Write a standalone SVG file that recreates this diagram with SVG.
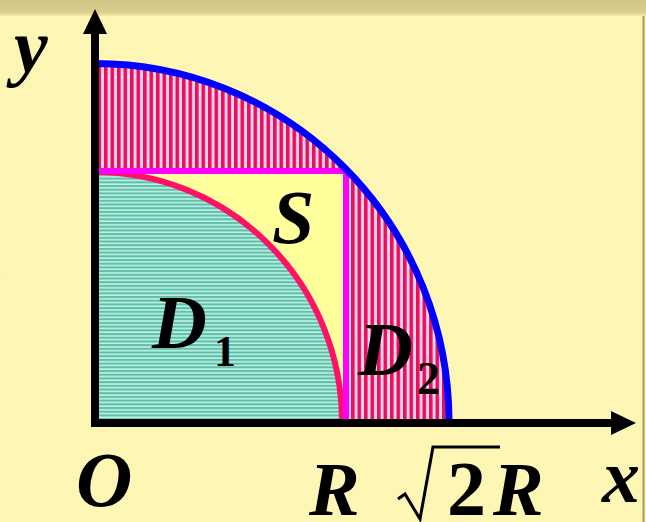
<svg xmlns="http://www.w3.org/2000/svg" width="646" height="522" viewBox="0 0 646 522">
<defs>
<linearGradient id="band" x1="0" y1="0" x2="0" y2="1">
<stop offset="0" stop-color="#d0c582"/>
<stop offset="0.75" stop-color="#d8cd8a"/>
<stop offset="1" stop-color="#f3eaa8"/>
</linearGradient>
<pattern id="vstripe" patternUnits="userSpaceOnUse" width="6.5" height="10">
<rect width="6.5" height="10" fill="#ffd6ee"/>
<rect width="3.6" height="10" fill="#e8105e"/>
</pattern>
<pattern id="hstripe" patternUnits="userSpaceOnUse" width="10" height="3.7">
<rect width="10" height="3.7" fill="#bff3e4"/>
<rect width="10" height="2.1" fill="#5fbfaa"/>
</pattern>
<style>
.lab{font-family:"Liberation Serif","Times New Roman",serif;font-weight:bold;font-style:italic;fill:#000;}
.num{font-family:"Liberation Serif","Times New Roman",serif;font-weight:bold;fill:#000;}
</style>
</defs>
<rect width="646" height="522" fill="#fdf6b4"/>
<rect width="646" height="16" fill="url(#band)"/>
<line x1="643.5" y1="16" x2="643.5" y2="522" stroke="#a8985a" stroke-width="2"/>

<g id="D2">
<path d="M95,422 L95,63.5 A354,358.5 0 0 1 449,422 Z" fill="url(#vstripe)"/>
</g>
<g id="S-region">
<rect x="95" y="171" width="251" height="251" fill="#ffff9c"/>
</g>
<g id="D1">
<path d="M95,422 L95,172 A247,250 0 0 1 342,422 Z" fill="url(#hstripe)"/>
</g>
<g id="curves">
<path d="M95,172 A247,250 0 0 1 342,420" fill="none" stroke="#ff1166" stroke-width="6"/>
<path d="M95,171 L346,171 L346,420" fill="none" stroke="#ff00ff" stroke-width="6"/>
<path d="M95,63.5 A354,358.5 0 0 1 449,420" fill="none" stroke="#0000ff" stroke-width="7"/>
</g>
<g id="axes">
<line x1="95" y1="426" x2="95" y2="34" stroke="#000" stroke-width="8"/>
<polygon points="95,9 83,34 107,34" fill="#000"/>
<line x1="91" y1="423" x2="613" y2="423" stroke="#000" stroke-width="8"/>
<polygon points="636,423 611,411 611,435" fill="#000"/>
</g>
<g id="labels">
<text class="lab" x="14" y="72" font-size="76">y</text>
<text class="lab" x="-10" y="276" font-size="60">,</text>
<text class="lab" x="272" y="243" font-size="76">S</text>
<text class="lab" x="152" y="348" font-size="76">D</text>
<text class="num" x="214" y="366" font-size="44">1</text>
<text class="lab" x="358" y="375" font-size="76">D</text>
<text class="num" x="417" y="394" font-size="46">2</text>
<text class="lab" x="76" y="506" font-size="78">O</text>
<text class="lab" x="309" y="515" font-size="76">R</text>
<path d="M398,499 L405,494 L420,519 L433,447 L500,447" fill="none" stroke="#000" stroke-width="3"/>
<text class="num" x="447" y="515" font-size="78">2</text>
<text class="lab" x="493" y="515" font-size="76">R</text>
<text class="lab" x="602" y="502" font-size="76">x</text>
</g>
</svg>
